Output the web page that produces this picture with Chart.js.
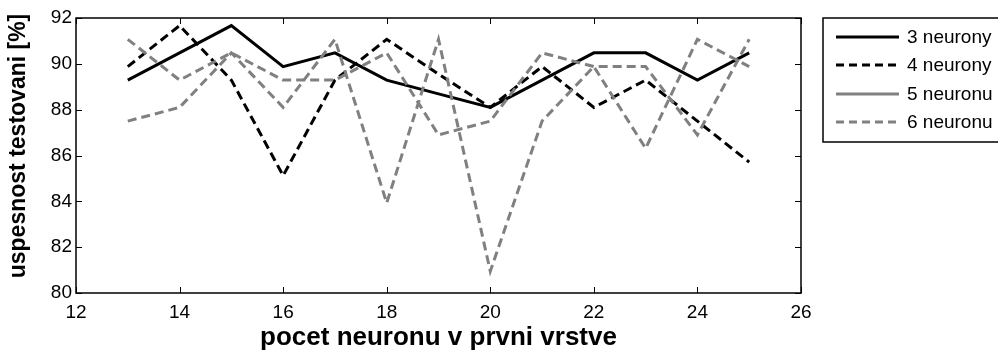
<!DOCTYPE html>
<html>
<head>
<meta charset="utf-8">
<script src="https://cdn.jsdelivr.net/npm/chart.js@4.4.0/dist/chart.umd.min.js"></script>
<style>
  html, body { margin: 0; padding: 0; background: #fff; }
  #wrap { width: 998px; height: 353px; }
</style>
</head>
<body>
<div id="wrap"><canvas id="chart" width="998" height="353"></canvas></div>
<script>
// hodnoty
const neuronCounts = [13, 14, 15, 16, 17, 18, 19, 20, 21, 22, 23, 24, 25];
const xTicks = [12, 14, 16, 18, 20, 22, 24, 26];
const yTicks = [80, 82, 84, 86, 88, 90, 92];
const seriesNames = ['3 neurony', '4 neurony', '5 neuronu', '6 neuronu'];
const acc3 = [89.29, 90.48, 91.67, 89.88, 90.48, 89.29, 88.69, 88.10, 89.29, 90.48, 90.48, 89.29, 90.48];
const acc4 = [89.88, 91.67, 89.29, 85.12, 89.29, 91.07, 89.55, 88.10, 89.88, 88.10, 89.29, 87.50, 85.71];
const acc5 = [91.07, 89.29, 90.48, 89.29, 89.29, 90.48, 86.90, 87.50, 90.48, 89.88, 89.88, 86.90, 91.07];
const acc6 = [87.50, 88.10, 90.48, 88.10, 91.07, 83.93, 91.07, 80.95, 87.50, 89.88, 86.31, 91.07, 89.88];
const yTitle = 'uspesnost testovani [%]';
const xTitle = 'pocet neuronu v prvni vrstve';

const toPoints = vals => neuronCounts.map((n, i) => ({ x: n, y: vals[i] }));

const BLACK = '#000000';
const GRAY = '#808080';
const DASH = [9, 5];
const FONT = '"Liberation Sans", Arial, sans-serif';

// ramecek, ticky dovnitr, popis osy y a legenda jako v MATLABu
const matlabFrame = {
  id: 'matlabFrame',
  afterDatasetsDraw(chart) {
    const { ctx, chartArea: a, scales } = chart;
    ctx.save();
    ctx.strokeStyle = BLACK;
    ctx.lineWidth = 1;
    ctx.setLineDash([]);
    ctx.beginPath();
    xTicks.forEach(v => {
      const px = Math.round(scales.x.getPixelForValue(v)) + 0.5;
      ctx.moveTo(px, a.bottom); ctx.lineTo(px, a.bottom - 6);
      ctx.moveTo(px, a.top); ctx.lineTo(px, a.top + 6);
    });
    yTicks.forEach(v => {
      const py = Math.round(scales.y.getPixelForValue(v)) + 0.5;
      ctx.moveTo(a.left, py); ctx.lineTo(a.left + 6, py);
      ctx.moveTo(a.right, py); ctx.lineTo(a.right - 6, py);
    });
    ctx.stroke();
    ctx.lineWidth = 1.5;
    ctx.strokeRect(Math.round(a.left), Math.round(a.top), Math.round(a.right - a.left), Math.round(a.bottom - a.top));
    ctx.restore();
  },
  afterDraw(chart) {
    const ctx = chart.ctx;
    ctx.save();
    // popis osy y
    ctx.fillStyle = BLACK;
    ctx.font = 'bold 23px ' + FONT;
    ctx.textAlign = 'center';
    ctx.textBaseline = 'middle';
    ctx.translate(19, 146);
    ctx.rotate(-Math.PI / 2);
    ctx.fillText(yTitle, 0, 0);
    ctx.restore();

    ctx.save();
    ctx.strokeStyle = BLACK;
    ctx.lineWidth = 1.5;
    ctx.setLineDash([]);
    ctx.strokeRect(823, 18, 220, 124);
    const rows = [37, 65, 94, 122];
    ctx.font = '19px ' + FONT;
    ctx.textBaseline = 'middle';
    chart.data.datasets.forEach((ds, i) => {
      ctx.strokeStyle = ds.borderColor;
      ctx.lineWidth = ds.borderWidth;
      ctx.setLineDash(ds.legendDash);
      ctx.beginPath();
      ctx.moveTo(836, rows[i]);
      ctx.lineTo(899, rows[i]);
      ctx.stroke();
      ctx.fillStyle = BLACK;
      ctx.fillText(ds.label, 907, rows[i] + 1);
    });
    ctx.restore();
  }
};

const tickFont = { family: FONT, size: 19 };

new Chart(document.getElementById('chart'), {
  type: 'line',
  data: {
    datasets: [
      { label: seriesNames[0], data: toPoints(acc3), borderColor: BLACK, borderWidth: 3, borderDash: [], legendDash: [], order: 4 },
      { label: seriesNames[1], data: toPoints(acc4), borderColor: BLACK, borderWidth: 3, borderDash: DASH, legendDash: [8, 5], order: 3 },
      { label: seriesNames[2], data: toPoints(acc5), borderColor: GRAY, borderWidth: 3, borderDash: DASH, legendDash: [], order: 2 },
      { label: seriesNames[3], data: toPoints(acc6), borderColor: GRAY, borderWidth: 3, borderDash: DASH, legendDash: [8, 5], order: 1 }
    ]
  },
  options: {
    responsive: false,
    devicePixelRatio: 1,
    animation: false,
    elements: { point: { radius: 0 }, line: { tension: 0, fill: false } },
    layout: { padding: { top: 18, right: 197, left: 0, bottom: 0 } },
    plugins: { legend: { display: false }, tooltip: { enabled: false } },
    scales: {
      x: {
        type: 'linear',
        min: 12,
        max: 26,
        afterBuildTicks: scale => { scale.ticks = xTicks.map(v => ({ value: v })); },
        afterFit: scale => { scale.height = 60; },
        grid: { display: false, drawTicks: false },
        border: { display: false },
        ticks: { font: tickFont, color: BLACK, padding: 8, maxRotation: 0 },
        title: { display: true, text: xTitle, font: { family: FONT, size: 26, weight: 'bold' }, color: BLACK, padding: 0 }
      },
      y: {
        type: 'linear',
        min: 80,
        max: 92,
        afterBuildTicks: scale => { scale.ticks = yTicks.map(v => ({ value: v })); },
        afterFit: scale => { scale.width = 76; },
        grid: { display: false, drawTicks: false },
        border: { display: false },
        ticks: { font: tickFont, color: BLACK, padding: 4 },
        title: { display: false }
      }
    }
  },
  plugins: [matlabFrame]
});
</script>
</body>
</html>
